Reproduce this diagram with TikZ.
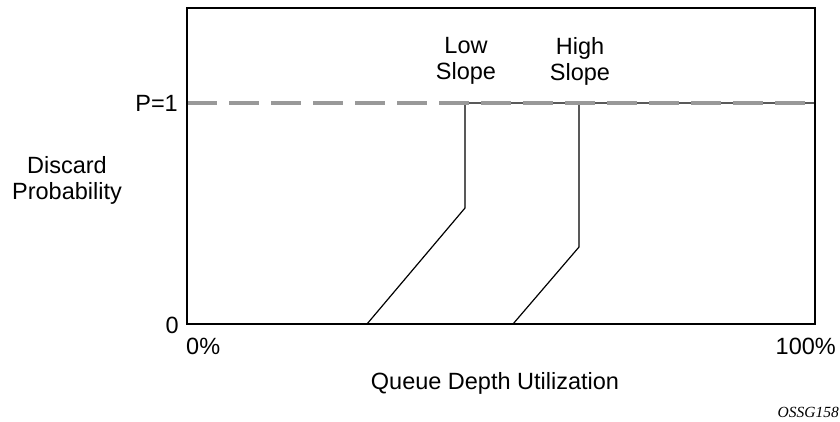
\documentclass[tikz,border=0pt]{standalone}
\usepackage{fontspec}
\setmainfont{Liberation Sans}
\newfontfamily\figidfont{Liberation Serif}
\begin{document}
\begin{tikzpicture}[x=1pt,y=-1pt,
  lbl/.style={font=\fontsize{23.5}{26}\selectfont, inner sep=0pt, align=center},
  curve/.style={draw=black, line width=1.2pt, line join=miter},
  frame/.style={draw=black, line width=2.4pt},
  limit/.style={draw=black!40, line width=4pt, dash pattern=on 30pt off 12pt}]
\useasboundingbox (0,0) rectangle (840,422);

% plot area corners
\coordinate (tl) at (187,8);
\coordinate (br) at (815,324);
\coordinate (p1l) at (187,103);
\coordinate (p1r) at (815,103);

% low-slope curve
\coordinate (lowTop) at (465,103);
\coordinate (lowKnee) at (465,208);
\coordinate (lowBase) at (367,324);
% high-slope curve
\coordinate (highTop) at (579,103);
\coordinate (highKnee) at (579,247);
\coordinate (highBase) at (513,324);

\draw[curve] (lowBase) -- (lowKnee) -- (lowTop) -- (p1r);
\draw[curve] (highBase) -- (highKnee) -- (highTop);

% P=1 dashed reference
\draw[limit] (p1l) -- (p1r);

% axes frame
\draw[frame] (tl) rectangle (br);

% labels
\node[lbl] (low) at (466,61) {Low\\Slope};
\node[lbl] (high) at (580,61) {High\\Slope};
\node[lbl, anchor=east] (pone) at (178,103) {P=1};
\node[lbl] (yaxis) at (67,180) {Discard\\Probability};
\node[lbl, anchor=east] (zero) at (179,325) {0};
\node[lbl, anchor=west] (zeropct) at (186,346) {0\%};
\node[lbl, anchor=east] (fullpct) at (836,346) {100\%};
\node[lbl] (xaxis) at (495,383) {Queue Depth Utilization};
\node[font=\figidfont\itshape\fontsize{15.5}{17}\selectfont, anchor=east, inner sep=0pt] (figid) at (839,412) {OSSG158};
\end{tikzpicture}
\end{document}
